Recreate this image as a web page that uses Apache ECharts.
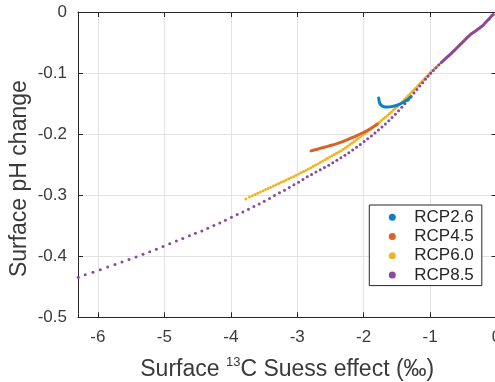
<!DOCTYPE html>
<html>
<head>
<meta charset="utf-8">
<script src="https://cdn.jsdelivr.net/npm/echarts@6/dist/echarts.min.js"></script>
<style>
  html, body { margin: 0; padding: 0; background: #fff; }
  #chart { width: 495px; height: 382px; }
</style>
</head>
<body>
<div id="chart"></div>
<script>
// Shared historical trajectory: [surface 13C Suess effect (permil), surface pH change]
const historical = [
  [-0.050,-0.0039],[-0.067,-0.0059],[-0.084,-0.0078],[-0.101,-0.0098],[-0.118,-0.0117],
  [-0.135,-0.0137],[-0.152,-0.0156],[-0.169,-0.0176],[-0.186,-0.0195],[-0.203,-0.0215],
  [-0.220,-0.0233],[-0.237,-0.0247],[-0.254,-0.0261],[-0.271,-0.0274],[-0.288,-0.0288],
  [-0.305,-0.0301],[-0.322,-0.0315],[-0.339,-0.0328],[-0.356,-0.0340],[-0.373,-0.0353],
  [-0.390,-0.0366],[-0.407,-0.0383],[-0.424,-0.0401],[-0.441,-0.0419],[-0.458,-0.0438],
  [-0.475,-0.0456],[-0.492,-0.0474],[-0.509,-0.0493],[-0.526,-0.0511],[-0.543,-0.0529],
  [-0.560,-0.0547],[-0.577,-0.0566],[-0.594,-0.0584],[-0.611,-0.0602],[-0.628,-0.0621],
  [-0.645,-0.0639],[-0.662,-0.0657],[-0.679,-0.0674],[-0.696,-0.0691],[-0.713,-0.0708],
  [-0.730,-0.0725],[-0.747,-0.0742],[-0.764,-0.0759],[-0.781,-0.0776],[-0.798,-0.0793],
  [-0.815,-0.0810],[-0.832,-0.0827]
];

// RCP2.6: the curl back after leaving the common path
const rcp26 = [
  [-1.287,-0.1386],[-1.346,-0.1440],[-1.421,-0.1490],[-1.497,-0.1527],[-1.583,-0.1550],
  [-1.648,-0.1557],[-1.711,-0.1544],[-1.749,-0.1511],[-1.764,-0.1470],[-1.774,-0.1410]
];

// RCP4.5: the part that separates from the RCP6.0 path
const rcp45 = [
  [-1.793,-0.1834],[-1.869,-0.1893],[-1.945,-0.1940],[-2.020,-0.1982],[-2.110,-0.2028],
  [-2.201,-0.2069],[-2.306,-0.2118],[-2.412,-0.2159],[-2.517,-0.2192],[-2.623,-0.2224],
  [-2.713,-0.2251],[-2.793,-0.2274]
];

const rcp60 = [
  [-0.862,-0.0857],[-0.897,-0.0892],[-0.932,-0.0926],[-0.965,-0.0959],[-0.995,-0.0990],
  [-1.020,-0.1018],[-1.045,-0.1047],[-1.070,-0.1076],[-1.095,-0.1104],[-1.120,-0.1133],
  [-1.146,-0.1163],[-1.172,-0.1193],[-1.198,-0.1223],[-1.224,-0.1252],[-1.250,-0.1281],
  [-1.277,-0.1312],[-1.304,-0.1342],[-1.331,-0.1372],[-1.358,-0.1403],[-1.386,-0.1434],
  [-1.414,-0.1464],[-1.442,-0.1493],[-1.470,-0.1522],[-1.498,-0.1550],[-1.527,-0.1580],
  [-1.556,-0.1610],[-1.585,-0.1640],[-1.614,-0.1668],[-1.643,-0.1695],[-1.673,-0.1723],
  [-1.703,-0.1750],[-1.733,-0.1778],[-1.763,-0.1806],[-1.793,-0.1834],[-1.824,-0.1860],
  [-1.855,-0.1885],[-1.886,-0.1911],[-1.917,-0.1937],[-1.948,-0.1962],[-1.980,-0.1989],
  [-2.012,-0.2015],[-2.044,-0.2041],[-2.076,-0.2067],[-2.108,-0.2093],[-2.141,-0.2119],
  [-2.174,-0.2146],[-2.207,-0.2172],[-2.240,-0.2197],[-2.273,-0.2223],[-2.306,-0.2247],
  [-2.340,-0.2271],[-2.374,-0.2293],[-2.408,-0.2313],[-2.442,-0.2333],[-2.476,-0.2353],
  [-2.511,-0.2375],[-2.546,-0.2397],[-2.581,-0.2419],[-2.616,-0.2441],[-2.651,-0.2462],
  [-2.687,-0.2484],[-2.723,-0.2506],[-2.759,-0.2528],[-2.795,-0.2549],[-2.831,-0.2570],
  [-2.868,-0.2592],[-2.905,-0.2613],[-2.942,-0.2633],[-2.979,-0.2653],[-3.016,-0.2673],
  [-3.053,-0.2693],[-3.091,-0.2713],[-3.129,-0.2732],[-3.167,-0.2751],[-3.205,-0.2770],
  [-3.243,-0.2789],[-3.281,-0.2809],[-3.320,-0.2829],[-3.359,-0.2849],[-3.398,-0.2869],
  [-3.437,-0.2889],[-3.476,-0.2909],[-3.515,-0.2929],[-3.555,-0.2948],[-3.595,-0.2968],
  [-3.635,-0.2988],[-3.675,-0.3008],[-3.718,-0.3031],[-3.773,-0.3061]
];

const rcp85 = [
  [-0.870,-0.0868],[-0.910,-0.0912],[-0.950,-0.0957],[-0.989,-0.1003],[-1.030,-0.1053],
  [-1.070,-0.1103],[-1.112,-0.1157],[-1.155,-0.1213],[-1.198,-0.1270],[-1.242,-0.1327],
  [-1.287,-0.1386],[-1.333,-0.1445],[-1.379,-0.1503],[-1.426,-0.1561],[-1.474,-0.1618],
  [-1.522,-0.1673],[-1.572,-0.1728],[-1.622,-0.1782],[-1.673,-0.1834],[-1.724,-0.1884],
  [-1.777,-0.1934],[-1.830,-0.1982],[-1.884,-0.2029],[-1.939,-0.2075],[-1.994,-0.2120],
  [-2.050,-0.2170],[-2.107,-0.2215],[-2.165,-0.2260],[-2.223,-0.2304],[-2.282,-0.2348],
  [-2.342,-0.2388],[-2.403,-0.2428],[-2.465,-0.2469],[-2.526,-0.2508],[-2.590,-0.2546],
  [-2.653,-0.2584],[-2.718,-0.2621],[-2.784,-0.2662],[-2.849,-0.2700],[-2.914,-0.2744],
  [-2.980,-0.2787],[-3.050,-0.2831],[-3.120,-0.2875],[-3.191,-0.2918],[-3.267,-0.2962],
  [-3.342,-0.3006],[-3.417,-0.3056],[-3.497,-0.3098],[-3.573,-0.3143],[-3.652,-0.3187],
  [-3.734,-0.3230],[-3.818,-0.3274],[-3.904,-0.3318],[-3.990,-0.3361],[-4.081,-0.3410],
  [-4.165,-0.3454],[-4.255,-0.3498],[-4.346,-0.3541],[-4.436,-0.3585],[-4.533,-0.3623],
  [-4.623,-0.3666],[-4.723,-0.3710],[-4.819,-0.3752],[-4.919,-0.3797],[-5.020,-0.3841],
  [-5.121,-0.3884],[-5.220,-0.3926],[-5.321,-0.3969],[-5.427,-0.4011],[-5.532,-0.4052],
  [-5.638,-0.4093],[-5.743,-0.4134],[-5.853,-0.4177],[-5.965,-0.4220],[-6.075,-0.4262],
  [-6.191,-0.4305],[-6.296,-0.4344]
];

const scenarioNames = ['RCP2.6', 'RCP4.5', 'RCP6.0', 'RCP8.5'];
const scenarioColors = ['#0d7fc6', '#d8622a', '#efb324', '#8a48a0'];
const xTickValues = [-6, -5, -4, -3, -2, -1, 0];
const xRange = [-6.3, 0];
const yRange = [-0.5, 0];
const yStep = 0.1;

const FONT = "'Liberation Sans', Helvetica, Arial, sans-serif";
const AXIS_COLOR = '#262626';
const TEXT_COLOR = '#3a3a3a';

const chart = echarts.init(document.getElementById('chart'), null, { renderer: 'canvas' });

// Scenarios whose yearly points sit so close together that they read as a solid stroke
function lineSeries(i, data) {
  return {
    name: scenarioNames[i],
    type: 'line',
    data: data,
    smooth: 0.35,
    showSymbol: false,
    symbol: 'circle',
    lineStyle: { width: 3, color: scenarioColors[i], cap: 'round', join: 'round' },
    itemStyle: { color: scenarioColors[i] },
    silent: true
  };
}

// Scenarios drawn as individual yearly dots, including the common history
function dotSeries(i, branch) {
  return {
    name: scenarioNames[i],
    type: 'scatter',
    data: historical.concat(branch),
    symbol: 'circle',
    symbolSize: 3,
    itemStyle: { color: scenarioColors[i], opacity: 1 },
    silent: true
  };
}

const tickStyle = { show: true, inside: true, length: 5, lineStyle: { color: AXIS_COLOR, width: 1 } };

chart.setOption({
  animation: false,
  textStyle: { fontFamily: FONT },
  grid: {
    left: 78, top: 12, width: 418.5, height: 305.3,
    containLabel: false, outerBoundsMode: 'none'
  },
  legend: {
    orient: 'vertical',
    left: 369.3,
    top: 205,
    padding: [2.7, 8, 1.1, 19.5],
    itemWidth: 7,
    itemHeight: 7,
    itemGap: 0,
    icon: 'circle',
    selectedMode: false,
    backgroundColor: '#ffffff',
    borderColor: '#262626',
    borderWidth: 1,
    textStyle: { fontSize: 17, lineHeight: 19.2, color: '#262626', fontFamily: FONT, padding: [0, 0, 0, 13.5] },
    data: scenarioNames
  },
  xAxis: [
    {
      type: 'value',
      min: xRange[0],
      max: xRange[1],
      position: 'bottom',
      name: 'Surface {sup|13}C Suess effect (‰)',
      nameLocation: 'middle',
      nameGap: 39,
      nameMoveOverlap: false,
      nameTextStyle: {
        fontSize: 23, color: TEXT_COLOR, fontFamily: FONT, lineHeight: 26,
        rich: { sup: { fontSize: 13, verticalAlign: 'top', lineHeight: 13, color: TEXT_COLOR, fontFamily: FONT } }
      },
      axisLine: { show: true, onZero: false, lineStyle: { color: AXIS_COLOR, width: 1 } },
      axisTick: Object.assign({ customValues: xTickValues }, tickStyle),
      axisLabel: { customValues: xTickValues, margin: 12, fontSize: 17, color: TEXT_COLOR, fontFamily: FONT },
      splitLine: { show: true, lineStyle: { color: '#e3e3e3', width: 1 } }
    },
    {
      type: 'value',
      min: xRange[0],
      max: xRange[1],
      position: 'top',
      axisLine: { show: true, onZero: false, lineStyle: { color: AXIS_COLOR, width: 1 } },
      axisTick: Object.assign({ customValues: xTickValues }, tickStyle),
      axisLabel: { show: false },
      splitLine: { show: false }
    }
  ],
  yAxis: [
    {
      type: 'value',
      min: yRange[0],
      max: yRange[1],
      interval: yStep,
      position: 'left',
      name: 'Surface pH change',
      nameLocation: 'middle',
      nameGap: 45,
      nameMoveOverlap: false,
      nameTextStyle: {
        fontSize: 23, color: TEXT_COLOR, fontFamily: FONT, lineHeight: 26,
        padding: [0, 28, 0, 0]
      },
      axisLine: { show: true, onZero: false, lineStyle: { color: AXIS_COLOR, width: 1 } },
      axisTick: tickStyle,
      axisLabel: { margin: 11, fontSize: 17, color: TEXT_COLOR, fontFamily: FONT },
      splitLine: { show: true, lineStyle: { color: '#e3e3e3', width: 1 } }
    },
    {
      type: 'value',
      min: yRange[0],
      max: yRange[1],
      interval: yStep,
      position: 'right',
      axisLine: { show: true, onZero: false, lineStyle: { color: AXIS_COLOR, width: 1 } },
      axisTick: tickStyle,
      axisLabel: { show: false },
      splitLine: { show: false }
    }
  ],
  series: [
    lineSeries(0, rcp26),
    lineSeries(1, rcp45),
    dotSeries(2, rcp60),
    dotSeries(3, rcp85)
  ]
});
</script>
</body>
</html>
